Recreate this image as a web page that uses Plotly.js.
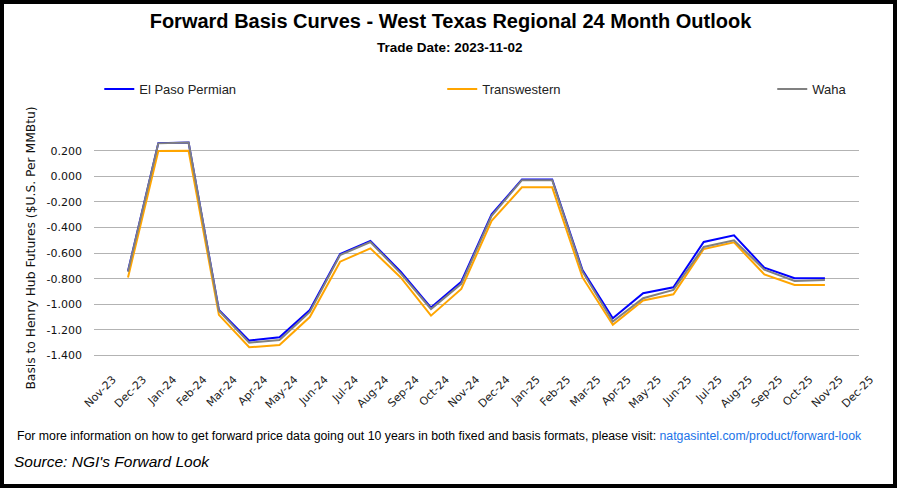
<!DOCTYPE html>
<html>
<head>
<meta charset="utf-8">
<script src="https://cdn.plot.ly/plotly-3.0.1.min.js"></script>
<style>
  html, body { margin: 0; padding: 0; background: #ffffff; }
  #chart { position: absolute; left: 0; top: 0; width: 901px; height: 491px; }
  #frame { position: absolute; left: 0; top: 0; width: 897px; height: 488px; box-sizing: border-box;
           border: 4px solid #000; pointer-events: none; }
</style>
</head>
<body>
<div id="chart"></div>
<div id="frame"></div>
<script>
// ---- data ----
const axisCategories = ["Nov-23","Dec-23","Jan-24","Feb-24","Mar-24","Apr-24","May-24","Jun-24","Jul-24",
  "Aug-24","Sep-24","Oct-24","Nov-24","Dec-24","Jan-25","Feb-25","Mar-25","Apr-25","May-25","Jun-25",
  "Jul-25","Aug-25","Sep-25","Oct-25","Nov-25","Dec-25"];
const months = ["Dec-23","Jan-24","Feb-24","Mar-24","Apr-24","May-24","Jun-24","Jul-24","Aug-24","Sep-24",
  "Oct-24","Nov-24","Dec-24","Jan-25","Feb-25","Mar-25","Apr-25","May-25","Jun-25","Jul-25","Aug-25",
  "Sep-25","Oct-25","Nov-25"];
const elPasoPermian = [-0.740, 0.260, 0.265, -1.045, -1.284, -1.258, -1.045, -0.607, -0.505, -0.745, -1.026, -0.823,
  -0.297, -0.024, -0.024, -0.732, -1.110, -0.914, -0.867, -0.513, -0.461, -0.714, -0.797, -0.797];
const transwestern = [-0.790, 0.198, 0.200, -1.083, -1.336, -1.318, -1.100, -0.667, -0.563, -0.790, -1.089, -0.880,
  -0.347, -0.086, -0.086, -0.790, -1.160, -0.970, -0.922, -0.568, -0.516, -0.766, -0.849, -0.850];
const waha = [-0.745, 0.258, 0.265, -1.050, -1.300, -1.280, -1.060, -0.615, -0.513, -0.758, -1.037, -0.840,
  -0.308, -0.030, -0.030, -0.745, -1.135, -0.953, -0.888, -0.552, -0.500, -0.730, -0.818, -0.810];
const yTickVals = [-1.4, -1.2, -1.0, -0.8, -0.6, -0.4, -0.2, 0.0, 0.2];
const yTickText = ["-1.400","-1.200","-1.000","-0.800","-0.600","-0.400","-0.200","0.000","0.200"];

const traces = [
  { x: months, y: elPasoPermian, name: "El Paso Permian", type: "scatter", mode: "lines",
    line: { color: "#0000ff", width: 2 }, legend: "legend" },
  { x: months, y: transwestern, name: "Transwestern", type: "scatter", mode: "lines",
    line: { color: "#ffa500", width: 2 }, legend: "legend2" },
  { x: months, y: waha, name: "Waha", type: "scatter", mode: "lines",
    line: { color: "#808080", width: 2 }, legend: "legend3" }
];

const legFont = { family: "Arial, 'Liberation Sans', sans-serif", size: 13, color: "#222" };
const legBase = { orientation: "h", yanchor: "middle", y: 1.2227, xanchor: "left",
  font: legFont, bgcolor: "rgba(0,0,0,0)", borderwidth: 0, itemclick: false };

const layout = {
  width: 901, height: 491,
  margin: { l: 94, r: 42, t: 138, b: 133, pad: 0 },
  paper_bgcolor: "#ffffff", plot_bgcolor: "#ffffff",
  title: { text: "<b>Forward Basis Curves - West Texas Regional 24 Month Outlook</b>",
    font: { family: "Arial, 'Liberation Sans', sans-serif", size: 20, color: "#000" },
    xref: "container", x: 0.5, xanchor: "center", yref: "container", y: 1 - 21/491, yanchor: "middle" },
  xaxis: { type: "category", categoryorder: "array", categoryarray: axisCategories,
    range: [-0.122, 25.125], showgrid: false, zeroline: false, showline: false, ticks: "",
    tickangle: -45, ticklabelshift: 15, ticklabelstandoff: 12,
    tickfont: { family: "'DejaVu Sans', sans-serif", size: 11, color: "#222" }, automargin: false },
  yaxis: { range: [-1.42, 0.3], tickmode: "array", tickvals: yTickVals, ticktext: yTickText,
    showgrid: true, gridcolor: "#b3b3b3", gridwidth: 1, zeroline: false, showline: false, ticks: "",
    ticklabelstandoff: 11,
    tickfont: { family: "'DejaVu Sans', sans-serif", size: 11, color: "#111" }, automargin: false,
    title: { text: "Basis to Henry Hub Futures ($U.S. Per MMBtu)", standoff: 8,
      font: { family: "'DejaVu Sans', sans-serif", size: 12.3, color: "#111" } } },
  legend: Object.assign({}, legBase, { x: 0.0069 }),
  legend2: Object.assign({}, legBase, { x: 0.4552 }),
  legend3: Object.assign({}, legBase, { x: 0.8866 }),
  showlegend: true,
  annotations: [
    { text: "<b>Trade Date: 2023-11-02</b>", xref: "paper", yref: "paper", x: 0.4654, y: 1.4136,
      xanchor: "center", yanchor: "middle", showarrow: false,
      font: { family: "Arial, 'Liberation Sans', sans-serif", size: 13.5, color: "#000" } },
    { text: "For more information on how to get forward price data going out 10 years in both fixed and basis formats, please visit: <span style=\"color:#1a73e8\">natgasintel.com/product/forward-look</span>",
      xref: "paper", yref: "paper", x: -0.1033, y: -0.3545, xanchor: "left", yanchor: "middle", showarrow: false,
      font: { family: "Arial, 'Liberation Sans', sans-serif", size: 12.3, color: "#000" } },
    { text: "<i>Source: NGI's Forward Look</i>",
      xref: "paper", yref: "paper", x: -0.1072, y: -0.4727, xanchor: "left", yanchor: "middle", showarrow: false,
      font: { family: "Arial, 'Liberation Sans', sans-serif", size: 15.5, color: "#000" } }
  ]
};

Plotly.newPlot("chart", traces, layout, { staticPlot: true, displayModeBar: false });
</script>
</body>
</html>
